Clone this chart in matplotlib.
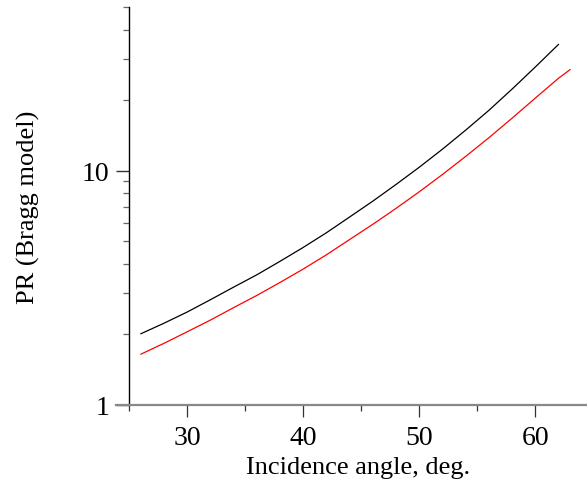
import matplotlib
matplotlib.use('Agg')
import matplotlib.pyplot as plt
from matplotlib.ticker import FixedLocator, NullFormatter

# readings from the reference (log scale y)
angle_black = [26, 28, 30, 32, 34, 36, 38, 40, 42, 44, 46, 48, 50, 52, 54, 56, 58, 60, 62]
pr_black = [2.01, 2.23, 2.49, 2.81, 3.18, 3.59, 4.10, 4.70, 5.43, 6.34,
            7.41, 8.73, 10.34, 12.35, 14.89, 18.09, 22.3, 27.7, 34.6]

angle_red = [26, 28, 30, 32, 34, 36, 38, 40, 42, 44, 46, 48, 50, 52, 54, 56, 58, 60, 62, 63]
pr_red = [1.644, 1.83, 2.05, 2.30, 2.60, 2.93, 3.33, 3.80, 4.37, 5.08,
          5.90, 6.90, 8.12, 9.63, 11.50, 13.82, 16.75, 20.4, 24.8, 27.0]

x_major = [30, 40, 50, 60]
x_minor = [25, 35, 45, 55]
y_major = [1, 10]
y_major_labels = ['1', '10']
y_minor = [2, 3, 4, 5, 6, 7, 8, 9, 20, 30, 40, 50]

plt.rcParams['font.family'] = ['Liberation Serif', 'DejaVu Serif']

fig = plt.figure(figsize=(5.87, 4.85), dpi=100)
ax = fig.add_axes([0.2203, 0.1635, 0.7797, 0.8200])

ax.plot(angle_black, pr_black, color='black', lw=0.9)
ax.plot(angle_red, pr_red, color='red', lw=0.9)

ax.set_yscale('log')
ax.set_xlim(25, 64.46)
ax.set_ylim(1, 50)

ax.spines['top'].set_visible(False)
ax.spines['right'].set_visible(False)
ax.spines['left'].set_color('black')
ax.spines['left'].set_linewidth(1.0)
ax.spines['bottom'].set_color('#888888')
ax.spines['bottom'].set_linewidth(1.6)
# x axis line runs a bit to the left of the y axis
ax.plot([-0.029, 0], [0, 0], transform=ax.transAxes, color='#888888',
        lw=1.6, clip_on=False, zorder=5)

ax.xaxis.set_major_locator(FixedLocator(x_major))
ax.xaxis.set_minor_locator(FixedLocator(x_minor))
ax.xaxis.set_minor_formatter(NullFormatter())
ax.set_xticklabels([str(v) for v in x_major])

ax.yaxis.set_major_locator(FixedLocator(y_major))
ax.yaxis.set_minor_locator(FixedLocator(y_minor))
ax.yaxis.set_minor_formatter(NullFormatter())
ax.set_yticklabels(y_major_labels)

ax.tick_params(axis='x', which='major', length=8.5, width=0.9, color='#333333',
               labelsize=20, pad=6)
ax.tick_params(axis='x', which='minor', length=4.5, width=0.9, color='#333333')
ax.tick_params(axis='y', which='major', length=9.5, width=1.0, color='#333333',
               labelsize=20, pad=5)
ax.tick_params(axis='y', which='minor', length=4.5, width=0.9, color='#666666')

ax.set_xlabel('Incidence angle, deg.', fontsize=19)
ax.set_ylabel('PR (Bragg model)', fontsize=19)
ax.xaxis.set_label_coords(0.5, -0.128)
ax.yaxis.set_label_coords(-0.195, 0.5)

fig.savefig('out.png', dpi=100)
